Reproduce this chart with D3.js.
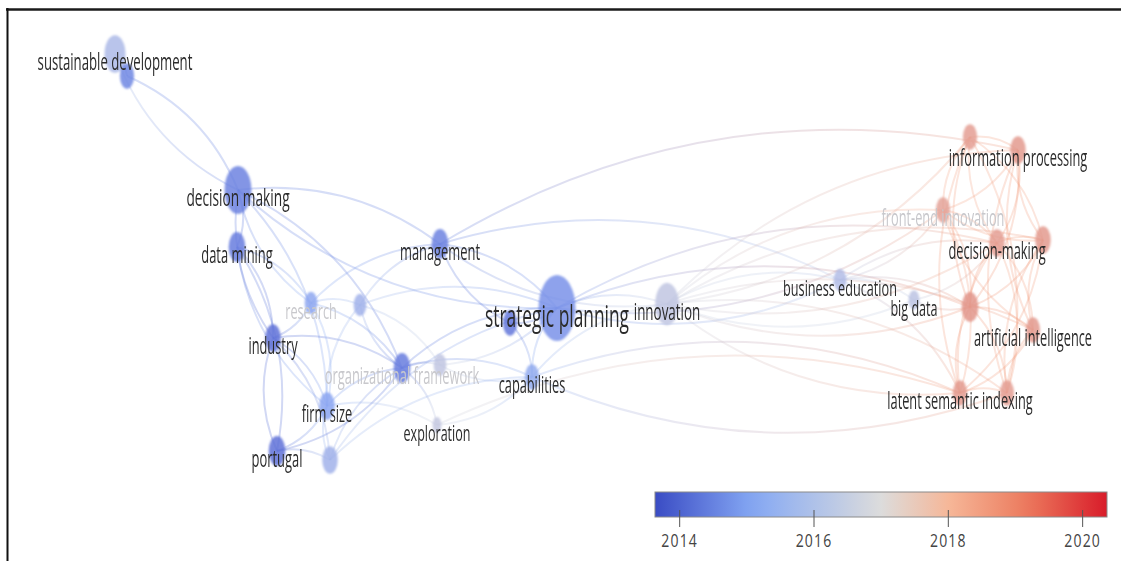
<!DOCTYPE html>
<html>
<head>
<meta charset="utf-8">
<script src="https://cdn.jsdelivr.net/npm/d3@7"></script>
<style>
  html, body { margin: 0; padding: 0; background: #fff; }
  svg { display: block; }
</style>
</head>
<body>
<svg id="chart" width="1121" height="561"></svg>
<script>
// ---------- DATA ----------
// node labels ("" = label not shown by the map)
const nodeLabels = [
  "sustainable development", "", "decision making", "data mining", "research", "",
  "industry", "organizational framework", "", "firm size", "portugal", "",
  "exploration", "management", "strategic planning", "", "capabilities", "innovation",
  "business education", "big data", "front-end innovation", "", "information processing",
  "decision-making", "", "", "artificial intelligence", "latent semantic indexing", ""
];
// map coordinates (layout units)
const nodeX = [-4.45, -4.33, -3.22, -3.23, -2.49, -2.00, -2.87, -1.58, -1.20, -2.33, -2.83, -2.30,
  -1.23, -1.20, -0.03, -0.50, -0.28, 1.07, 2.80, 3.54, 3.83, 4.10, 4.58, 4.37, 4.83, 4.10, 4.73, 4.00, 4.47];
const nodeY = [-2.46, -2.24, -1.10, -0.53, 0.03, 0.05, 0.38, 0.68, 0.65, 1.06, 1.51, 1.60,
  1.25, -0.56, 0.08, 0.23, 0.77, 0.04, -0.20, 0.00, -0.90, -1.63, -1.50, -0.57, -0.60, 0.07, 0.30, 0.93, 0.93];
// occurrences (weight)
const nodeWeight = [11, 5, 18, 7, 4, 4, 6, 7, 4, 6, 7, 6, 2, 7, 34, 5, 5, 14, 4, 3, 5, 5, 6, 6, 6, 7, 5, 5, 5];
// average publication year
const nodeYear = [2016.1, 2014.6, 2014.5, 2014.4, 2015.3, 2015.8, 2014.2, 2014.4, 2016.6, 2015.2, 2014.2, 2015.8,
  2016.7, 2014.5, 2014.8, 2014.3, 2015.4, 2016.6, 2016.2, 2016.5, 2018.3, 2018.4, 2018.5, 2018.4, 2018.5, 2018.6,
  2018.5, 2018.5, 2018.4];
// faded labels
const dimLabels = ["research", "organizational framework", "front-end innovation"];
// links (source index, target index)
const links = [
  [0,1],[1,2],[0,2],[2,13],[2,3],[2,6],[2,4],[2,9],[2,7],[2,14],
  [3,6],[3,4],[3,9],[3,10],
  [6,10],[6,9],[6,4],[6,7],[6,11],
  [4,5],[4,9],[4,7],[4,13],
  [5,7],[5,9],[5,14],[5,8],
  [7,8],[7,9],[7,11],[7,12],[7,14],[7,16],[7,10],
  [8,14],[8,16],
  [9,10],[9,11],[9,12],
  [10,11],[11,14],[11,16],[12,16],[12,27],
  [13,14],[13,15],[13,17],[13,18],[13,22],[13,5],
  [14,15],[14,16],[14,17],[14,18],[14,23],[14,25],[14,20],
  [15,16],[16,17],[16,27],[16,28],
  [17,18],[17,19],[17,20],[17,21],[17,22],[17,23],[17,24],[17,25],[17,26],[17,27],[17,28],
  [18,19],[18,25],[18,27],[18,23],[18,20],
  [19,23],[19,25],
  [20,21],[20,22],[20,23],[20,24],[20,25],[20,26],[20,27],
  [21,22],[21,23],[21,24],[21,25],[21,27],[21,28],
  [22,23],[22,24],[22,25],[22,26],[22,28],
  [23,24],[23,25],[23,26],[23,27],[23,28],
  [24,25],[24,26],[24,27],[24,28],
  [25,26],[25,27],[25,28],
  [26,27],[26,28],[27,28]
];
// colour legend
const yearDomain = [2013.64, 2020.37];
const yearTicks = [2014, 2016, 2018, 2020];
const colorStops = ["#3a4cc4", "#86a9f4", "#dcdcdc", "#f6b798", "#ec7b5e", "#d81c2a"];
const colorStopPos = [0, 0.22, 0.5, 0.65, 0.82, 1];

// ---------- DRAW ----------
const W = 1121, H = 561;
const svg = d3.select("#chart");
const defs = svg.append("defs");

const x = d3.scaleLinear().domain([-5.6, 5.61]).range([0, W]);
const y = d3.scaleLinear().domain([-3.0, 2.61]).range([0, H]);
const r = d3.scaleSqrt().domain([0, 34]).range([0, 33]);
const fontSize = d3.scaleLinear().domain([3, 18, 34]).range([22.5, 24.5, 31]);
const squeeze = 0.56;

const yearFrac = d3.scaleLinear().domain(yearDomain).range([0, 1]).clamp(true);
const stopScale = d3.scaleLinear().domain(colorStopPos).range(colorStops).interpolate(d3.interpolateRgb);
const color = yr => stopScale(yearFrac(yr));

const nodes = nodeLabels.map((label, i) => ({
  i, label, x: nodeX[i], y: nodeY[i], w: nodeWeight[i], year: nodeYear[i]
}));

// blur filters
const f = defs.append("filter").attr("id", "soft").attr("x", "-50%").attr("y", "-50%").attr("width", "200%").attr("height", "200%");
f.append("feGaussianBlur").attr("stdDeviation", 1.3);
const fl = defs.append("filter").attr("id", "softText");
fl.append("feGaussianBlur").attr("stdDeviation", 0.35);

// frame
svg.append("rect").attr("width", W).attr("height", H).attr("fill", "#fff");
svg.append("line").attr("x1", 6).attr("x2", W).attr("y1", 9.5).attr("y2", 9.5)
  .attr("stroke", "#1a1a1a").attr("stroke-width", 2.5);
svg.append("line").attr("x1", 7.5).attr("x2", 7.5).attr("y1", 8).attr("y2", H)
  .attr("stroke", "#111").attr("stroke-width", 2);

// links
const gLinks = svg.append("g").attr("fill", "none");
links.forEach(([a, b], k) => {
  const s = nodes[a], t = nodes[b];
  const x1 = x(s.x), y1 = y(s.y), x2 = x(t.x), y2 = y(t.y);
  const dx = x2 - x1, dy = y2 - y1;
  const sign = ((a * 7 + b * 3) % 2 === 0) ? 1 : -1;
  const c = 0.2 * sign;
  const cx = (x1 + x2) / 2 - dy * c, cy = (y1 + y2) / 2 + dx * c;
  const gid = "lg" + k;
  const lg = defs.append("linearGradient").attr("id", gid).attr("gradientUnits", "userSpaceOnUse")
    .attr("x1", x1).attr("y1", y1).attr("x2", x2).attr("y2", y2);
  lg.append("stop").attr("offset", 0).attr("stop-color", color(s.year));
  lg.append("stop").attr("offset", 1).attr("stop-color", color(t.year));
  const p = d3.path();
  p.moveTo(x1, y1);
  p.quadraticCurveTo(cx, cy, x2, y2);
  gLinks.append("path").attr("d", p.toString())
    .attr("stroke", `url(#${gid})`).attr("stroke-width", 2)
    .attr("stroke-opacity", 0.27);
});

// nodes
svg.append("g").attr("filter", "url(#soft)")
  .selectAll("ellipse").data(nodes).join("ellipse")
  .attr("cx", d => x(d.x)).attr("cy", d => y(d.y))
  .attr("rx", d => r(d.w) * squeeze).attr("ry", d => r(d.w))
  .attr("fill", d => d3.interpolateRgb(color(d.year), "#8c82e6")(0.15))
  .attr("fill-opacity", 0.85);

// labels
svg.append("g").attr("filter", "url(#softText)")
  .selectAll("text").data(nodes.filter(d => d.label !== "")).join("text")
  .attr("transform", d => `translate(${x(d.x)},${y(d.y) + 7}) scale(${squeeze},1)`)
  .attr("text-anchor", "middle").attr("dominant-baseline", "central")
  .attr("font-family", "'Open Sans', 'Noto Sans', sans-serif")
  .attr("font-size", d => fontSize(d.w))
  .attr("fill", d => dimLabels.includes(d.label) ? "#c8c8cc" : "#2b2b2b")
  .text(d => d.label);

// colour legend
const bx = d3.scaleLinear().domain(yearDomain).range([655, 1107]);
const grad = defs.append("linearGradient").attr("id", "cbar").attr("x1", "0%").attr("x2", "100%");
d3.range(0, 1.0001, 0.05).forEach(t => {
  grad.append("stop").attr("offset", t).attr("stop-color", stopScale(t));
});
svg.append("rect").attr("x", bx.range()[0]).attr("y", 492)
  .attr("width", bx.range()[1] - bx.range()[0]).attr("height", 25)
  .attr("fill", "url(#cbar)").attr("stroke", "#8a8a8a").attr("stroke-width", 1);

const axis = d3.axisBottom(bx).tickValues(yearTicks).tickSize(17).tickFormat(d3.format("d"));
const ga = svg.append("g").attr("transform", "translate(0,510)").call(axis);
ga.select(".domain").remove();
ga.selectAll(".tick line").attr("stroke", "#555").attr("stroke-width", 1);
ga.selectAll(".tick text")
  .attr("y", 31).attr("dy", "0.35em")
  .attr("transform", "scale(0.78,1)")
  .attr("font-family", "'Open Sans', 'Noto Sans', sans-serif")
  .attr("font-size", 18).attr("letter-spacing", 1.5)
  .attr("fill", "#444");
</script>
</body>
</html>
